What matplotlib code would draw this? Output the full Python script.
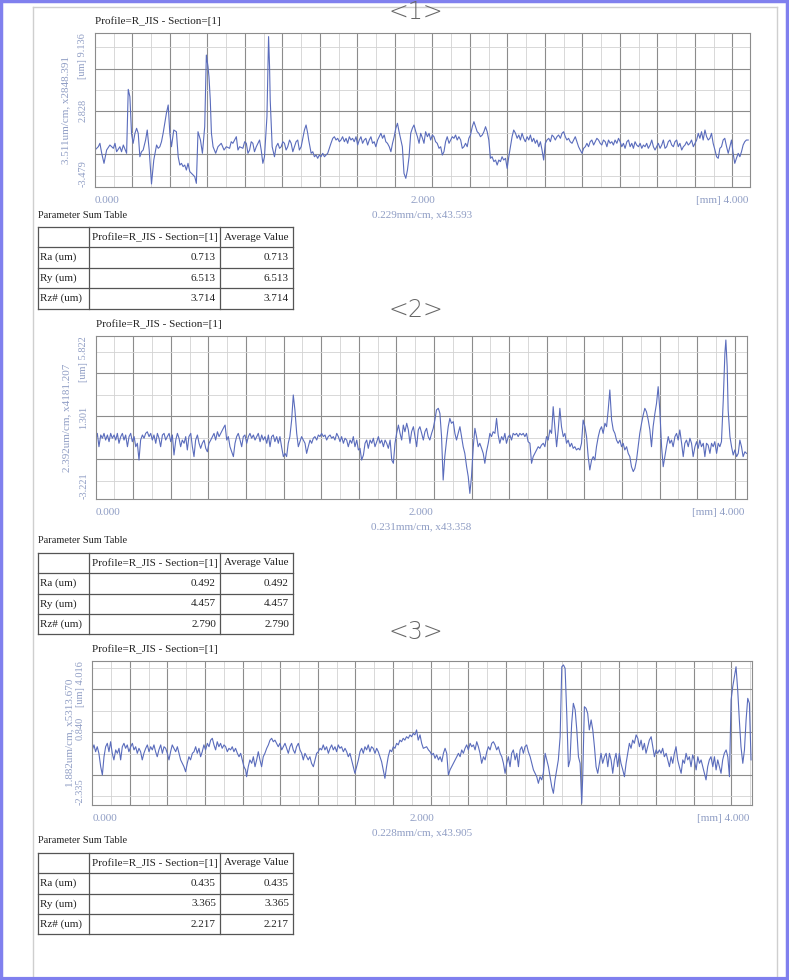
import numpy as np
import matplotlib.pyplot as plt

plt.rcParams['font.family'] = ['Liberation Serif', 'DejaVu Serif']

W, H = 789, 980

# ---- profile 1 (x in mm, height in um) ----
p1_x = [0.000, 0.020, 0.030, 0.041, 0.055, 0.071, 0.091, 0.112, 0.122, 0.132, 0.152, 0.162, 0.173, 0.193,
        0.203, 0.213, 0.223, 0.233, 0.244, 0.254, 0.264, 0.274, 0.284, 0.294, 0.309, 0.319, 0.331, 0.345,
        0.359, 0.376, 0.386, 0.396, 0.406, 0.416, 0.426, 0.436, 0.447, 0.457, 0.467, 0.481, 0.497, 0.508,
        0.518, 0.528, 0.538, 0.548, 0.558, 0.568, 0.579, 0.589, 0.599, 0.609, 0.619, 0.629, 0.644, 0.656,
        0.670, 0.680, 0.690, 0.696, 0.704, 0.711, 0.721, 0.737, 0.751, 0.771, 0.788, 0.802, 0.822, 0.832,
        0.842, 0.863, 0.873, 0.883, 0.903, 0.914, 0.924, 0.934, 0.944, 0.954, 0.964, 0.974, 0.985, 1.005,
        1.015, 1.025, 1.035, 1.050, 1.060, 1.066, 1.070, 1.082, 1.096, 1.106, 1.117, 1.127, 1.137, 1.147,
        1.157, 1.167, 1.177, 1.188, 1.198, 1.208, 1.218, 1.228, 1.238, 1.248, 1.259, 1.269, 1.279, 1.289,
        1.299, 1.305, 1.320, 1.330, 1.340, 1.350, 1.360, 1.370, 1.380, 1.391, 1.401, 1.411, 1.421, 1.431,
        1.441, 1.452, 1.462, 1.472, 1.482, 1.492, 1.502, 1.512, 1.523, 1.533, 1.543, 1.553, 1.563, 1.573,
        1.583, 1.594, 1.604, 1.614, 1.624, 1.634, 1.644, 1.654, 1.665, 1.675, 1.685, 1.695, 1.705, 1.715,
        1.726, 1.736, 1.746, 1.756, 1.766, 1.776, 1.786, 1.797, 1.807, 1.817, 1.827, 1.837, 1.847, 1.857,
        1.877, 1.887, 1.898, 1.908, 1.918, 1.928, 1.938, 1.948, 1.959, 1.969, 1.979, 1.989, 2.000, 2.009,
        2.019, 2.030, 2.040, 2.050, 2.060, 2.070, 2.080, 2.090, 2.101, 2.111, 2.121, 2.131, 2.141, 2.151,
        2.162, 2.172, 2.182, 2.192, 2.202, 2.212, 2.222, 2.233, 2.243, 2.253, 2.263, 2.273, 2.283, 2.293,
        2.304, 2.314, 2.324, 2.334, 2.344, 2.354, 2.365, 2.375, 2.385, 2.395, 2.405, 2.415, 2.425, 2.436,
        2.446, 2.456, 2.466, 2.476, 2.486, 2.496, 2.507, 2.517, 2.527, 2.537, 2.547, 2.557, 2.568, 2.578,
        2.588, 2.598, 2.608, 2.618, 2.628, 2.639, 2.649, 2.659, 2.669, 2.679, 2.689, 2.699, 2.710, 2.720,
        2.730, 2.740, 2.750, 2.760, 2.771, 2.781, 2.791, 2.801, 2.811, 2.821, 2.831, 2.842, 2.852, 2.862,
        2.872, 2.882, 2.892, 2.902, 2.913, 2.923, 2.933, 2.943, 2.953, 2.963, 2.974, 2.984, 2.994, 3.004,
        3.014, 3.024, 3.034, 3.045, 3.055, 3.065, 3.075, 3.085, 3.095, 3.105, 3.116, 3.126, 3.136, 3.146,
        3.156, 3.166, 3.176, 3.187, 3.197, 3.207, 3.217, 3.227, 3.237, 3.248, 3.258, 3.268, 3.278, 3.288,
        3.298, 3.308, 3.319, 3.329, 3.339, 3.349, 3.359, 3.369, 3.379, 3.390, 3.400, 3.410, 3.420, 3.430,
        3.440, 3.451, 3.461, 3.471, 3.481, 3.491, 3.501, 3.511, 3.522, 3.532, 3.542, 3.552, 3.562, 3.572,
        3.583, 3.593, 3.603, 3.613, 3.623, 3.633, 3.643, 3.654, 3.664, 3.674, 3.684, 3.694, 3.704, 3.714,
        3.725, 3.735, 3.745, 3.755, 3.765, 3.775, 3.786, 3.796, 3.806, 3.816, 3.826, 3.836, 3.846, 3.857,
        3.867, 3.877, 3.887, 3.897, 3.907, 3.917, 3.928, 3.938, 3.948, 3.958, 3.968, 3.978, 3.989]
p1_z = [-0.45, -0.18, 0.10, -0.72, -1.54, -0.45, -0.04, -0.31, 0.10, -0.59, -0.18, -0.59, -0.04, -0.72,
        4.52, 3.92, 0.92, 0.10, 0.92, 1.33, 0.92, -1.00, -0.59, -0.45, 0.37, 1.19, -0.45, -3.23,
        -1.27, -0.04, -0.31, -0.18, 0.23, 0.92, 1.74, 2.56, 3.24, 0.92, -0.18, 1.19, 1.05, -1.00,
        -1.68, -1.54, -1.81, -1.68, -2.09, -1.54, -2.22, -2.36, -2.50, -2.63, -3.18, 1.05, 0.37, -0.72,
        1.46, 7.33, 6.38, 5.56, 3.65, 0.92, -0.18, -0.72, -0.18, 0.10, -0.45, -0.18, -0.31, 0.23,
        0.10, 0.64, -0.45, -0.18, -0.31, 0.23, 0.10, -0.72, -0.45, 0.23, 0.10, -0.59, -0.18, 0.37,
        -0.45, -1.54, -1.00, 2.28, 8.84, 6.38, 3.65, -0.18, -1.00, -0.18, 0.10, -0.31, -0.18, 0.23,
        0.10, -0.45, -0.18, 0.37, 0.10, -0.59, -0.18, 0.23, 0.37, -0.45, -0.18, 0.51, 1.19, 1.60,
        0.92, 0.37, -0.72, -0.59, -1.00, -0.86, -1.13, -0.86, -1.00, -0.72, -1.00, -0.86, -0.72, -0.31,
        0.10, 0.51, 0.64, 0.37, 0.51, 0.23, 0.37, 0.64, 0.23, 0.51, 0.10, 0.64, 0.37, 0.51,
        0.23, 0.64, -0.04, 0.37, 0.64, 0.10, 0.37, 0.51, -0.04, 0.37, 0.64, 0.10, 0.23, -0.18,
        0.37, 0.64, 0.92, 0.51, 0.78, 0.23, 0.10, -0.18, -0.59, 0.10, 0.64, 1.33, 1.74, 1.05,
        -0.18, -2.36, -2.77, -2.09, -1.00, 0.92, 1.33, 1.60, 1.05, 0.64, 0.10, 0.92, 0.51, 0.10,
        1.05, 0.64, 0.92, 0.37, 0.78, 0.64, 0.23, 0.10, -0.31, -0.18, -0.86, -0.59, 0.23, 0.64,
        0.10, 0.37, 0.64, 0.51, 0.78, 0.37, 0.64, 0.37, -0.31, -0.18, 0.10, -0.18, 0.51, 0.78,
        1.46, 1.87, 1.46, 1.05, 0.92, 0.64, 0.78, 1.05, 1.46, 1.05, 0.37, -1.13, -1.00, -1.40,
        -1.27, -1.68, -1.27, -1.40, -1.00, -1.27, -1.13, -1.95, -1.00, -0.18, 0.64, 1.19, 0.92, 0.51,
        0.78, 0.37, 0.92, 0.51, 0.23, 0.64, 0.37, 0.78, 0.23, 0.51, 0.10, 0.37, -0.18, 0.23,
        -0.45, -1.27, 0.10, 0.37, 0.51, 0.23, 0.78, 0.64, 0.37, 0.64, 0.78, 0.51, 0.92, 1.05,
        0.64, 0.37, 0.51, 0.23, 0.10, 0.37, 0.64, 0.23, -0.18, -0.45, -0.72, -0.31, -0.18, 0.10,
        -0.18, 0.23, 0.37, -0.04, 0.23, 0.51, 0.37, 0.10, -0.04, 0.37, 0.23, -0.18, 0.37, 0.10,
        0.23, -0.04, 0.37, 0.10, 0.51, 0.23, -0.18, 0.10, -0.31, 0.23, 0.37, -0.18, 0.10, -0.31,
        0.23, -0.04, -0.18, 0.10, -0.31, -0.04, -0.18, 0.10, -0.31, -0.04, 0.37, -0.18, -0.45, -0.18,
        0.10, -0.31, -0.04, 0.37, -0.31, -0.18, 0.23, 0.37, -0.04, -0.18, 0.23, 0.37, -0.18, 0.10,
        -0.45, -0.18, -0.04, 0.23, -0.04, 0.10, 0.37, -0.18, 0.10, 0.37, 0.92, 0.51, 1.05, 0.37,
        1.19, 0.64, 0.37, 0.51, 0.92, 0.10, -0.45, -1.00, -1.13, -0.31, -0.18, 0.37, 0.51, -0.18,
        -0.72, -0.18, 0.37, -0.72, -1.54, -1.13, -0.72, -1.00, -0.59, -0.04, 0.23, 0.37, 0.37]

# ---- profile 2 ----
p2_x = [0.000, 0.010, 0.020, 0.031, 0.041, 0.051, 0.061, 0.072, 0.082, 0.092, 0.102, 0.113, 0.123, 0.133,
        0.143, 0.154, 0.164, 0.174, 0.184, 0.195, 0.205, 0.215, 0.225, 0.236, 0.246, 0.256, 0.266, 0.276,
        0.287, 0.297, 0.307, 0.317, 0.328, 0.338, 0.348, 0.358, 0.369, 0.379, 0.389, 0.399, 0.410, 0.420,
        0.430, 0.440, 0.451, 0.461, 0.471, 0.481, 0.492, 0.502, 0.512, 0.522, 0.532, 0.543, 0.553, 0.563,
        0.573, 0.584, 0.594, 0.604, 0.614, 0.625, 0.635, 0.645, 0.655, 0.666, 0.676, 0.686, 0.696, 0.707,
        0.717, 0.727, 0.737, 0.748, 0.758, 0.768, 0.778, 0.789, 0.795, 0.805, 0.815, 0.825, 0.836, 0.846,
        0.856, 0.866, 0.876, 0.887, 0.897, 0.907, 0.917, 0.928, 0.938, 0.948, 0.958, 0.969, 0.979, 0.989,
        0.999, 1.010, 1.020, 1.030, 1.040, 1.051, 1.061, 1.071, 1.081, 1.091, 1.101, 1.112, 1.122, 1.132,
        1.142, 1.153, 1.163, 1.173, 1.183, 1.193, 1.204, 1.214, 1.224, 1.235, 1.245, 1.255, 1.265, 1.276,
        1.286, 1.296, 1.306, 1.317, 1.327, 1.337, 1.347, 1.358, 1.368, 1.378, 1.388, 1.399, 1.409, 1.419,
        1.429, 1.440, 1.450, 1.460, 1.470, 1.481, 1.491, 1.501, 1.511, 1.522, 1.532, 1.542, 1.552, 1.563,
        1.573, 1.583, 1.593, 1.604, 1.614, 1.624, 1.634, 1.645, 1.655, 1.665, 1.675, 1.686, 1.696, 1.706,
        1.716, 1.727, 1.737, 1.747, 1.757, 1.768, 1.778, 1.788, 1.798, 1.809, 1.819, 1.829, 1.839, 1.849,
        1.860, 1.870, 1.880, 1.890, 1.900, 1.911, 1.921, 1.931, 1.941, 1.952, 1.962, 1.972, 1.982, 1.992,
        2.003, 2.013, 2.023, 2.033, 2.043, 2.053, 2.064, 2.074, 2.084, 2.094, 2.105, 2.115, 2.125, 2.135,
        2.145, 2.156, 2.166, 2.176, 2.186, 2.197, 2.207, 2.217, 2.227, 2.238, 2.248, 2.258, 2.268, 2.279,
        2.289, 2.299, 2.309, 2.320, 2.330, 2.340, 2.350, 2.360, 2.371, 2.381, 2.391, 2.401, 2.412, 2.422,
        2.432, 2.442, 2.453, 2.463, 2.473, 2.483, 2.494, 2.504, 2.514, 2.524, 2.535, 2.545, 2.555, 2.565,
        2.576, 2.586, 2.596, 2.606, 2.617, 2.627, 2.637, 2.647, 2.657, 2.668, 2.678, 2.688, 2.698, 2.709,
        2.719, 2.729, 2.739, 2.750, 2.760, 2.770, 2.780, 2.791, 2.801, 2.811, 2.821, 2.832, 2.842, 2.852,
        2.862, 2.873, 2.883, 2.893, 2.903, 2.914, 2.924, 2.934, 2.944, 2.954, 2.965, 2.975, 2.985, 2.995,
        3.006, 3.016, 3.026, 3.036, 3.047, 3.057, 3.067, 3.077, 3.088, 3.098, 3.108, 3.118, 3.129, 3.139,
        3.149, 3.159, 3.170, 3.180, 3.190, 3.200, 3.210, 3.221, 3.231, 3.241, 3.251, 3.262, 3.272, 3.282,
        3.292, 3.303, 3.313, 3.323, 3.333, 3.343, 3.354, 3.364, 3.374, 3.384, 3.395, 3.405, 3.415, 3.425,
        3.436, 3.446, 3.456, 3.466, 3.477, 3.487, 3.497, 3.507, 3.518, 3.528, 3.538, 3.548, 3.559, 3.569,
        3.579, 3.589, 3.600, 3.610, 3.620, 3.630, 3.641, 3.651, 3.661, 3.671, 3.682, 3.692, 3.702, 3.712,
        3.722, 3.733, 3.743, 3.753, 3.763, 3.774, 3.784, 3.794, 3.804, 3.815, 3.825, 3.835, 3.845, 3.856,
        3.866, 3.872, 3.880, 3.886, 3.897, 3.907, 3.917, 3.927, 3.938, 3.948, 3.958, 3.968, 3.978, 3.989,
        3.999]
p2_z = [0.05, 0.42, -0.32, 0.33, 0.15, 0.42, 0.05, 0.33, -0.04, 0.42, 0.15, 0.33, 0.05, 0.42,
        -0.13, 0.24, 0.42, 0.05, 0.33, -0.32, 0.24, 0.42, -0.04, 0.24, -0.32, -0.13, -1.06, 0.05,
        0.33, 0.15, 0.42, 0.51, 0.24, 0.42, 0.05, 0.33, -0.13, 0.42, 0.15, -0.32, 0.33, 0.42,
        0.05, 0.24, 0.42, -0.04, 0.33, -0.78, 0.05, 0.42, 0.15, -0.32, 0.05, -0.13, 0.24, -0.50,
        0.24, 0.42, -0.32, -0.87, 0.05, 0.33, -0.13, -0.41, -0.13, 0.05, -0.41, -0.60, -0.13, 0.05,
        0.24, 0.42, 0.05, 0.51, 0.24, 0.42, 0.61, 0.79, 0.88, 0.05, 0.24, -0.32, -0.60, -0.87,
        -0.13, 0.24, 0.42, 0.05, -0.32, 0.24, 0.33, -0.13, 0.24, 0.42, 0.15, 0.33, 0.05, 0.24,
        0.42, -0.04, 0.33, 0.05, 0.24, -0.13, 0.33, -0.32, 0.24, 0.33, -0.04, 0.24, -0.13, 0.24,
        -0.32, -0.87, -0.69, -0.87, -0.13, 0.24, 1.16, 2.55, 1.72, 0.42, -0.32, -0.04, 0.24, 0.05,
        -0.13, -0.69, -0.32, 0.05, -0.13, 0.15, 0.24, 0.05, 0.33, 0.24, 0.42, 0.24, 0.33, 0.05,
        0.24, 0.33, 0.15, 0.24, 0.05, 0.42, 0.24, -0.04, 0.24, -0.13, 0.15, 0.05, -0.32, 0.05,
        -0.13, 0.24, -0.32, 0.05, -0.50, -0.41, -1.06, -0.78, -0.13, 0.05, -0.41, 0.05, -0.13, 0.15,
        -0.32, -0.04, 0.24, -0.13, 0.05, -0.32, 0.05, -0.13, -0.41, 0.05, -1.06, -1.24, -0.13, 0.42,
        0.88, 0.42, 0.05, 0.88, 0.51, 0.98, 0.61, -0.13, 0.51, 0.79, 0.24, -0.32, 0.61, 0.79,
        0.42, 0.05, 0.51, 0.70, 0.24, 0.05, 0.42, 0.70, 1.16, 1.72, 1.81, 1.53, 0.24, -2.17,
        -0.87, 0.05, 0.79, 1.25, 0.98, 1.07, 0.42, 0.05, 0.42, 0.79, 0.24, -0.32, -0.69, -1.43,
        -1.98, -2.91, -1.98, -0.32, 0.70, 0.24, -0.32, -0.13, -0.41, -0.69, -1.24, -0.60, -0.13, 0.42,
        0.24, 0.51, 0.42, 1.25, 0.33, -0.13, 0.24, 0.05, 0.42, -0.13, 0.24, 0.33, 0.05, 0.42,
        0.33, 0.42, 0.24, 0.42, 0.33, 0.42, 0.24, 0.42, -0.04, -0.13, -1.24, -0.87, -0.69, -0.50,
        -0.32, -0.41, -0.23, -0.13, -0.32, 0.24, 0.05, 0.61, 0.42, 1.90, 0.79, -0.32, 0.61, 1.81,
        0.79, 0.24, 0.42, -0.13, 0.05, -0.32, -0.13, -0.41, -0.32, -0.50, -0.41, -0.50, -0.13, 1.16,
        0.79, 0.24, -0.87, -1.61, -1.06, -0.87, -1.06, -0.32, 0.24, 0.61, 0.79, 0.42, 0.98, 0.79,
        1.72, 2.83, 1.16, 0.61, 0.42, 0.05, -0.13, 0.05, -0.32, -0.13, -0.50, -0.32, -0.69, -0.87,
        -1.43, -1.70, -1.52, -1.06, -0.32, 0.42, 0.98, 1.44, 1.81, 1.62, 1.16, 0.61, -0.32, 0.79,
        1.53, 2.09, 3.01, 1.72, -0.32, -1.43, -0.87, -0.32, 0.24, -0.13, 0.05, -0.32, 0.24, 0.42,
        0.05, 0.61, -0.13, -0.87, -0.13, 0.05, -0.32, 0.15, -0.13, -0.87, -0.32, -0.04, -0.41, 0.05,
        -0.32, -0.13, -0.87, -0.13, -0.23, -0.69, -0.13, -0.32, -0.04, -0.69, -0.13, -0.32, -0.04, 2.27,
        4.86, 5.60, 4.12, 1.72, 0.24, -0.32, -0.78, -0.50, -0.87, -0.69, 0.05, -0.32, -0.87, -0.60,
        -0.69]

# ---- profile 3 ----
p3_x = [0.000, 0.010, 0.020, 0.030, 0.040, 0.051, 0.061, 0.071, 0.081, 0.091, 0.101, 0.111, 0.121, 0.131,
        0.142, 0.152, 0.162, 0.172, 0.182, 0.192, 0.202, 0.212, 0.222, 0.233, 0.243, 0.253, 0.263, 0.273,
        0.283, 0.293, 0.303, 0.313, 0.324, 0.334, 0.344, 0.354, 0.364, 0.374, 0.384, 0.394, 0.404, 0.415,
        0.425, 0.435, 0.445, 0.455, 0.465, 0.475, 0.485, 0.495, 0.506, 0.516, 0.526, 0.536, 0.546, 0.556,
        0.566, 0.576, 0.586, 0.596, 0.607, 0.617, 0.627, 0.637, 0.647, 0.657, 0.667, 0.677, 0.687, 0.698,
        0.708, 0.718, 0.728, 0.738, 0.748, 0.758, 0.768, 0.778, 0.788, 0.799, 0.809, 0.819, 0.829, 0.839,
        0.849, 0.859, 0.869, 0.880, 0.890, 0.900, 0.910, 0.920, 0.930, 0.936, 0.946, 0.956, 0.967, 0.977,
        0.987, 0.997, 1.007, 1.017, 1.027, 1.037, 1.047, 1.058, 1.068, 1.078, 1.088, 1.098, 1.108, 1.118,
        1.128, 1.138, 1.149, 1.159, 1.169, 1.179, 1.189, 1.199, 1.209, 1.219, 1.229, 1.239, 1.250, 1.260,
        1.270, 1.280, 1.290, 1.300, 1.310, 1.320, 1.330, 1.341, 1.351, 1.361, 1.371, 1.381, 1.391, 1.401,
        1.411, 1.421, 1.432, 1.442, 1.452, 1.462, 1.472, 1.482, 1.492, 1.502, 1.512, 1.523, 1.533, 1.543,
        1.553, 1.563, 1.573, 1.583, 1.593, 1.603, 1.614, 1.624, 1.634, 1.644, 1.654, 1.664, 1.674, 1.684,
        1.694, 1.704, 1.715, 1.725, 1.735, 1.745, 1.755, 1.765, 1.775, 1.785, 1.795, 1.806, 1.816, 1.826,
        1.836, 1.846, 1.856, 1.866, 1.876, 1.886, 1.896, 1.906, 1.917, 1.927, 1.937, 1.947, 1.957, 1.967,
        1.977, 1.988, 1.998, 2.008, 2.028, 2.039, 2.049, 2.059, 2.069, 2.079, 2.089, 2.100, 2.110, 2.120,
        2.130, 2.140, 2.150, 2.160, 2.170, 2.180, 2.190, 2.201, 2.211, 2.221, 2.231, 2.241, 2.251, 2.261,
        2.271, 2.281, 2.292, 2.302, 2.312, 2.322, 2.332, 2.342, 2.352, 2.362, 2.373, 2.383, 2.393, 2.403,
        2.413, 2.423, 2.433, 2.443, 2.453, 2.463, 2.474, 2.484, 2.494, 2.504, 2.514, 2.524, 2.534, 2.544,
        2.554, 2.565, 2.575, 2.585, 2.595, 2.605, 2.615, 2.625, 2.635, 2.645, 2.656, 2.666, 2.676, 2.686,
        2.696, 2.706, 2.716, 2.726, 2.736, 2.747, 2.757, 2.767, 2.777, 2.787, 2.797, 2.807, 2.817, 2.827,
        2.838, 2.848, 2.858, 2.868, 2.878, 2.888, 2.898, 2.908, 2.918, 2.929, 2.939, 2.949, 2.959, 2.969,
        2.975, 2.985, 2.995, 3.005, 3.015, 3.026, 3.036, 3.046, 3.056, 3.066, 3.076, 3.086, 3.096, 3.107,
        3.117, 3.127, 3.137, 3.147, 3.157, 3.167, 3.177, 3.187, 3.197, 3.207, 3.218, 3.228, 3.238, 3.248,
        3.258, 3.268, 3.278, 3.288, 3.299, 3.309, 3.319, 3.329, 3.339, 3.349, 3.359, 3.369, 3.379, 3.390,
        3.400, 3.410, 3.420, 3.430, 3.440, 3.450, 3.460, 3.470, 3.481, 3.491, 3.501, 3.511, 3.521, 3.531,
        3.541, 3.551, 3.561, 3.572, 3.582, 3.592, 3.602, 3.612, 3.622, 3.632, 3.642, 3.652, 3.663, 3.673,
        3.683, 3.693, 3.703, 3.713, 3.723, 3.733, 3.743, 3.753, 3.764, 3.774, 3.784, 3.794, 3.804, 3.814,
        3.824, 3.834, 3.845, 3.855, 3.865, 3.875, 3.885, 3.895, 3.905, 3.915, 3.925, 3.935, 3.946, 3.956,
        3.966, 3.976, 3.986, 3.996]
p3_z = [0.09, 0.31, 0.01, 0.23, -0.06, -0.65, -1.01, -0.21, 0.23, 0.38, 0.01, 0.45, -0.06, -0.35,
        0.09, -0.06, 0.16, -0.35, 0.23, 0.38, 0.16, 0.31, 0.01, 0.23, 0.38, 0.09, 0.23, -0.06,
        0.16, 0.01, -0.35, -0.06, 0.16, 0.31, 0.01, 0.23, 0.09, 0.31, 0.01, -0.21, 0.09, 0.31,
        -0.06, 0.23, 0.16, -0.06, -0.35, 0.01, 0.31, 0.16, 0.01, 0.23, -0.06, -0.35, -0.50, -0.65,
        -0.87, -0.50, -0.21, -0.35, -0.06, 0.01, 0.23, -0.06, 0.16, -0.21, 0.01, 0.31, 0.09, 0.38,
        0.23, 0.52, 0.60, 0.31, 0.09, 0.45, 0.23, 0.38, 0.16, 0.31, 0.23, 0.01, 0.16, 0.09,
        0.23, 0.01, 0.16, -0.06, -0.21, -0.06, -0.35, -0.65, -0.79, -1.09, -0.65, -0.35, -0.50, -0.21,
        -0.65, -0.35, 0.01, -0.35, -0.65, -0.21, -0.06, 0.16, 0.31, 0.52, 0.60, 0.45, 0.52, 0.38,
        0.23, 0.38, 0.09, 0.23, 0.38, 0.16, -0.06, 0.23, 0.38, 0.09, -0.06, 0.23, 0.38, 0.09,
        -0.06, -0.35, -0.06, -0.21, -0.35, -0.21, -0.50, -0.65, -0.35, -0.06, 0.01, 0.16, 0.09, 0.31,
        0.09, 0.23, -0.06, 0.16, 0.31, 0.09, 0.23, 0.01, 0.31, 0.16, 0.23, 0.01, 0.16, 0.01,
        -0.21, -0.06, -0.35, -0.65, -0.94, -0.65, -0.35, 0.01, 0.16, -0.06, 0.23, 0.09, 0.31, 0.01,
        0.23, 0.16, -0.06, 0.16, 0.01, -0.21, -0.43, -0.79, -1.16, -0.65, -0.21, 0.09, 0.01, 0.23,
        0.16, 0.38, 0.31, 0.52, 0.45, 0.60, 0.52, 0.67, 0.60, 0.75, 0.67, 0.82, 0.75, 0.97,
        0.52, 0.75, 0.38, 0.16, 0.23, 0.09, 0.01, -0.13, -0.06, -0.28, -0.13, -0.35, -0.21, -0.43,
        -0.06, 0.16, -0.06, -1.01, -0.79, -0.65, -0.50, -0.35, -0.21, -0.06, -0.21, 0.09, -0.06, 0.16,
        0.31, 0.09, 0.38, 0.23, 0.31, 0.09, 0.45, 0.23, -0.06, -0.50, -0.21, -0.35, 0.01, 0.23,
        0.09, 0.38, 0.45, 0.31, 0.09, 0.23, -0.06, -0.21, -0.50, -0.94, -0.50, -0.21, -0.65, -0.06,
        0.09, -0.35, -0.06, -0.65, 0.09, 0.23, -0.06, 0.23, 0.31, 0.01, -0.21, -0.50, -0.79, -0.94,
        -1.09, -1.38, -1.09, -1.23, -0.94, -0.06, -0.35, -0.65, -1.09, -1.53, -1.82, -1.23, -0.79, -0.35,
        0.67, 3.75, 3.83, 3.68, 1.70, -0.65, -0.35, 1.26, 2.14, 1.85, 0.97, -0.21, -0.50, -2.26,
        -1.09, 1.99, 1.92, 1.70, 0.97, 1.41, 0.97, 0.23, -0.65, -0.94, -0.50, -0.06, -0.50, -0.21,
        -0.06, -0.65, -0.06, -0.35, -0.94, -0.35, -0.06, -0.65, -0.06, -0.50, -0.79, -1.09, -0.50, -0.06,
        0.38, 0.16, 0.52, 0.38, 0.75, 0.60, 0.23, 0.52, 0.09, 0.38, -0.06, 0.23, 0.52, 0.67,
        0.23, -0.21, 0.09, -0.06, 0.09, -0.06, 0.16, -0.21, -0.06, -0.35, -0.65, -0.21, -0.50, -0.06,
        0.23, -0.35, -0.65, -0.94, -0.35, -0.50, -0.06, -0.35, -0.21, -0.65, -0.13, -0.35, -0.79, -0.21,
        -0.50, -0.35, -0.65, -0.94, -1.23, -0.65, -0.35, -0.21, -0.65, -0.21, -0.79, -0.35, -0.65, -0.94,
        -0.35, -0.06, 0.09, -0.21, -1.09, 2.29, 2.87, 3.31, 3.75, 2.73, 1.41, 0.23, -0.50, 0.09,
        1.41, 2.36, 2.14, -0.35]

profiles = [(p1_x, p1_z), (p2_x, p2_z), (p3_x, p3_z)]

# axis scale info printed on the sheet
z_bottom = [-3.479, -3.221, -2.335]
z_top = [9.136, 5.822, 4.016]
z_mid = ['2.828', '1.301', '0.840']
um_per_cm = [3.511, 2.392, 1.882]
v_mag = ['x2848.391', 'x4181.207', 'x5313.670']
mm_per_cm = [0.229, 0.231, 0.228]
h_mag = ['x43.593', 'x43.358', 'x43.905']
grid_origin = [-0.80, -1.02, -1.01]

# parameter tables
row_names = ['Ra (um)', 'Ry (um)', 'Rz# (um)']
ra = [0.713, 0.492, 0.435]
ry = [6.513, 4.457, 3.365]
rz = [3.714, 2.790, 2.217]

# layout, in pixels: left, top, right, bottom of each plot box
boxes = [(95, 33, 750, 187), (95.7, 336, 746.7, 499), (92.3, 660.7, 751.7, 805)]
table_tops = [227, 552.7, 852.7]
outer_dx = [29, 29, 23]
mid_dy = [0, 0, -4]
marks = ['<1>', '<2>', '<3>']
mark_y = [12, 310, 632]

line_c = '#5a6cbc'
lab_c = '#8f9dc4'
txt_c = '#222222'

fig = plt.figure(figsize=(W / 100, H / 100), dpi=100)
bg = fig.add_axes([0, 0, 1, 1])
bg.set_xlim(0, W)
bg.set_ylim(H, 0)
bg.axis('off')

# page edges and scan frame
bg.plot([33, 33], [7, H], color='#cfcfcf', lw=1)
bg.plot([33, 777], [7, 7], color='#cfcfcf', lw=1)
bg.plot([777, 777], [7, H], color='#cfcfcf', lw=1)
fc = '#8080ee'
bg.plot([1, 1], [0, H], color=fc, lw=2.5)
bg.plot([787.5, 787.5], [0, H], color=fc, lw=2.5)
bg.plot([0, W], [1.2, 1.2], color=fc, lw=2.5)
bg.plot([0, W], [978.5, 978.5], color=fc, lw=3)

col_x = [38, 89, 220, 293]
row_h = 20.4

for i, (px, pz) in enumerate(profiles):
    l, t, r, b = boxes[i]
    ax = fig.add_axes([l / W, 1 - b / H, (r - l) / W, (b - t) / H])
    ax.plot(px, pz, color=line_c, lw=0.8)
    ax.set_xlim(0, 4)
    mm = mm_per_cm[i]
    um = um_per_cm[i]
    ax.set_xticks(np.arange(mm, 4, mm))
    ax.set_xticks(np.arange(mm / 2, 4, mm), minor=True)
    yt = np.arange(grid_origin[i] - 3 * um, z_top[i], um)
    ax.set_yticks(yt[yt > z_bottom[i]])
    ytm = np.arange(grid_origin[i] - 3.5 * um, z_top[i], um)
    ax.set_yticks(ytm[ytm > z_bottom[i]], minor=True)
    ax.set_ylim(z_bottom[i], z_top[i])
    ax.grid(which='major', color='#8c8c8c', lw=0.8)
    ax.grid(which='minor', color='#d2d2d2', lw=0.6)
    ax.set_axisbelow(True)
    ax.tick_params(which='both', length=0, labelbottom=False, labelleft=False)
    for s in ax.spines.values():
        s.set_color('#8c8c8c')
        s.set_linewidth(0.8)

    # titles and scale texts
    bg.text(l, t - 12, 'Profile=R_JIS - Section=[1]', fontsize=8, color=txt_c, va='center', ha='left')
    bg.text(l, b + 13, '0.000', fontsize=8, color=lab_c, va='center', ha='left')
    bg.text((l + r) / 2, b + 13, '2.000', fontsize=8, color=lab_c, va='center', ha='center')
    bg.text(r - 2, b + 13, '[mm] 4.000', fontsize=8, color=lab_c, va='center', ha='right')
    bg.text((l + r) / 2, b + 28, f'{mm:.3f}mm/cm, {h_mag[i]}', fontsize=8, color=lab_c,
            va='center', ha='center')
    bg.text(l - outer_dx[i], (t + b) / 2, f'{um:.3f}um/cm, {v_mag[i]}', fontsize=8, color=lab_c,
            rotation=90, va='center', ha='center')
    bg.text(l - 12, t, f'[um] {z_top[i]:.3f}', fontsize=7.5, color=lab_c, rotation=90, va='top', ha='center')
    bg.text(l - 12, (t + b) / 2 + mid_dy[i], z_mid[i], fontsize=7.5, color=lab_c, rotation=90,
            va='center', ha='center')
    bg.text(l - 12, b, f'{z_bottom[i]:.3f}', fontsize=7.5, color=lab_c, rotation=90, va='bottom', ha='center')

    # handwritten sample number
    bg.text(416, mark_y[i], marks[i], fontsize=17, color='#666666', family='DejaVu Sans',
            fontweight='light', va='center', ha='center')

    # parameter table
    tt = table_tops[i]
    bg.text(38, tt - 12, 'Parameter Sum Table', fontsize=7.5, color=txt_c, va='center', ha='left')
    for k in range(5):
        bg.plot([col_x[0], col_x[-1]], [tt + k * row_h] * 2, color='#555555', lw=0.9)
    for cx in col_x:
        bg.plot([cx, cx], [tt, tt + 4 * row_h], color='#555555', lw=0.9)
    yc = tt + row_h / 2
    bg.text((col_x[1] + col_x[2]) / 2, yc, 'Profile=R_JIS - Section=[1]', fontsize=8, color=txt_c,
            va='center', ha='center')
    bg.text((col_x[2] + col_x[3]) / 2, yc, 'Average Value', fontsize=8, color=txt_c,
            va='center', ha='center')
    vals = [ra[i], ry[i], rz[i]]
    for k in range(3):
        yc = tt + (k + 1.5) * row_h
        bg.text(col_x[0] + 2, yc, row_names[k], fontsize=8, color=txt_c, va='center', ha='left')
        bg.text(col_x[2] - 4, yc, f'{vals[k]:.3f}', fontsize=8, color=txt_c, va='center', ha='right')
        bg.text(col_x[3] - 4, yc, f'{vals[k]:.3f}', fontsize=8, color=txt_c, va='center', ha='right')

fig.savefig('out.png', dpi=100)
